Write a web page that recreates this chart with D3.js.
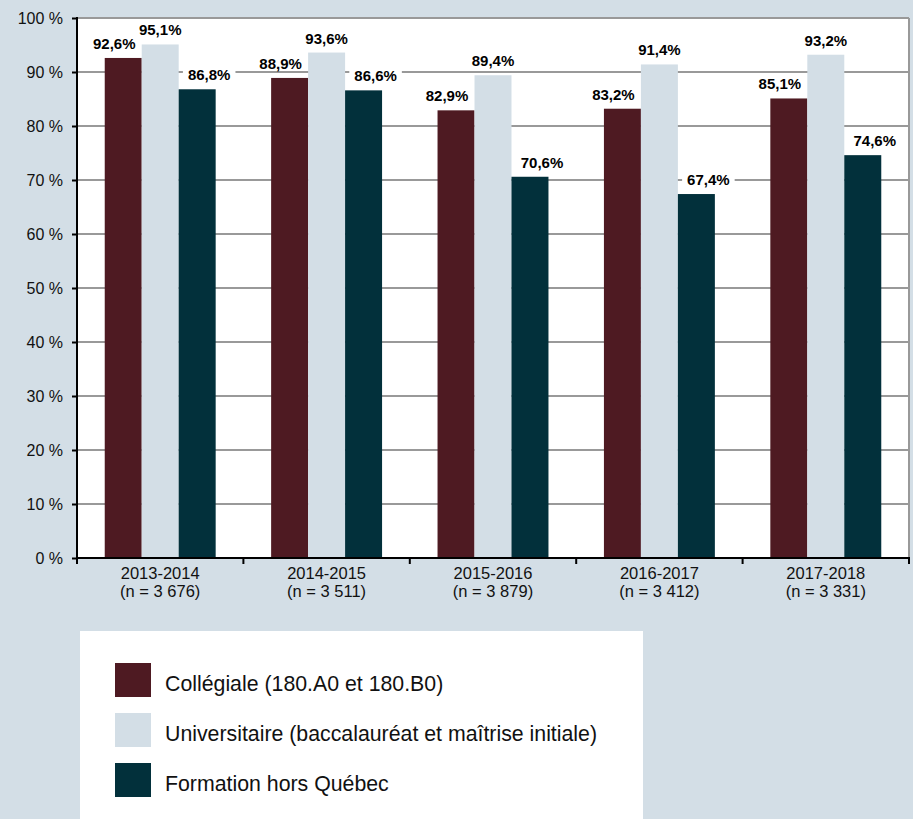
<!DOCTYPE html>
<html>
<head>
<meta charset="utf-8">
<script src="https://cdn.jsdelivr.net/npm/d3@7"></script>
<style>
  body { margin: 0; background: #d3dee6; }
  svg { display: block; font-family: "Liberation Sans", Arial, sans-serif; }
</style>
</head>
<body>
<svg id="chart" width="913" height="819"></svg>
<script>
const years = ["2013-2014", "2014-2015", "2015-2016", "2016-2017", "2017-2018"];
const counts = ["(n = 3 676)", "(n = 3 511)", "(n = 3 879)", "(n = 3 412)", "(n = 3 331)"];
const collegiale = [92.6, 88.9, 82.9, 83.2, 85.1];
const universitaire = [95.1, 93.6, 89.4, 91.4, 93.2];
const horsQuebec = [86.8, 86.6, 70.6, 67.4, 74.6];
const seriesNames = [
  "Collégiale (180.A0 et 180.B0)",
  "Universitaire (baccalauréat et maîtrise initiale)",
  "Formation hors Québec"
];
const yTicks = [0, 10, 20, 30, 40, 50, 60, 70, 80, 90, 100];

const colors = ["#4e1a22", "#d3dee6", "#02303b"];
const labelShift = [-9, 0, 12];
const series = [collegiale, universitaire, horsQuebec];

const svg = d3.select("#chart");
const plotLeft = 77, plotRight = 909, plotTop = 18, plotBottom = 558;

const x0 = d3.scaleBand().domain(years).range([plotLeft, plotRight]).padding(0);
const x1 = d3.scaleBand()
  .domain(d3.range(series.length))
  .range([x0.bandwidth() / 6, x0.bandwidth() * 5 / 6])
  .padding(0);
const y = d3.scaleLinear().domain([0, 100]).range([plotBottom, plotTop]);

// plot area
svg.append("rect")
  .attr("x", plotLeft).attr("y", plotTop)
  .attr("width", plotRight - plotLeft).attr("height", plotBottom - plotTop)
  .attr("fill", "#fff");

// gridlines
svg.append("g")
  .selectAll("line")
  .data(yTicks.filter((d) => d > 0))
  .enter()
  .append("line")
  .attr("x1", plotLeft).attr("x2", plotRight)
  .attr("y1", (d) => y(d)).attr("y2", (d) => y(d))
  .attr("stroke", "#999").attr("stroke-width", 2);

svg.append("line")
  .attr("x1", plotRight).attr("x2", plotRight)
  .attr("y1", plotTop).attr("y2", plotBottom)
  .attr("stroke", "#999").attr("stroke-width", 2);

// bars
const groups = svg.append("g")
  .selectAll("g")
  .data(years)
  .enter()
  .append("g")
  .attr("transform", (d) => `translate(${x0(d)},0)`);

groups.selectAll("rect")
  .data((d, i) => series.map((s, k) => ({ k: k, v: s[i] })))
  .enter()
  .append("rect")
  .attr("x", (d) => x1(d.k))
  .attr("width", x1.bandwidth())
  .attr("y", (d) => y(d.v))
  .attr("height", (d) => y(0) - y(d.v))
  .attr("fill", (d) => colors[d.k]);

// value labels
const fmt = (v) => d3.format(".1f")(v).replace(".", ",") + "%";
const labels = groups.selectAll("g.lbl")
  .data((d, i) => series.map((s, k) => ({ k: k, v: s[i] })))
  .enter()
  .append("g")
  .attr("class", "lbl")
  .attr("transform", (d) =>
    `translate(${x1(d.k) + x1.bandwidth() / 2 + labelShift[d.k]},${y(d.v) - 9})`);

const bg = labels.append("rect")
  .attr("y", -11).attr("height", 12)
  .attr("fill", "#fff");

const txt = labels.append("text")
  .attr("text-anchor", "middle")
  .attr("font-size", 15)
  .attr("font-weight", "bold")
  .attr("fill", "#000")
  .text((d) => fmt(d.v));

txt.each(function () {
  const w = this.getComputedTextLength() + 10;
  d3.select(this.previousSibling).attr("x", -w / 2).attr("width", w);
});

// y axis
const yAxis = svg.append("g")
  .attr("transform", `translate(${plotLeft},0)`)
  .call(d3.axisLeft(y).tickValues(yTicks).tickSize(5).tickPadding(9)
    .tickFormat((d) => d + " %"));
yAxis.selectAll("line").attr("stroke", "#000").attr("stroke-width", 2);
yAxis.select(".domain").attr("stroke", "#000").attr("stroke-width", 2)
  .attr("d", `M0,${plotTop - 1}V${plotBottom}`);
yAxis.selectAll("text")
  .attr("font-size", 16)
  .attr("font-family", "Liberation Sans, Arial, sans-serif")
  .attr("fill", "#111");

// x axis
svg.append("line")
  .attr("x1", plotLeft - 1).attr("x2", plotRight + 1)
  .attr("y1", plotBottom).attr("y2", plotBottom)
  .attr("stroke", "#000").attr("stroke-width", 2);

svg.append("g")
  .selectAll("line")
  .data(years.map((d) => x0(d)).concat([plotRight]))
  .enter()
  .append("line")
  .attr("x1", (d) => d).attr("x2", (d) => d)
  .attr("y1", plotBottom).attr("y2", plotBottom + 6)
  .attr("stroke", "#000").attr("stroke-width", 2);

const xLabels = svg.append("g")
  .selectAll("text")
  .data(years)
  .enter()
  .append("text")
  .attr("x", (d) => x0(d) + x0.bandwidth() / 2)
  .attr("y", 579)
  .attr("text-anchor", "middle")
  .attr("font-size", 16.5)
  .attr("fill", "#111");
xLabels.append("tspan").text((d) => d);
xLabels.append("tspan")
  .attr("x", (d) => x0(d) + x0.bandwidth() / 2)
  .attr("dy", 18)
  .text((d, i) => counts[i]);

// legend
svg.append("rect")
  .attr("x", 80).attr("y", 631)
  .attr("width", 563).attr("height", 188)
  .attr("fill", "#fff");

const legend = svg.append("g")
  .selectAll("g")
  .data(seriesNames)
  .enter()
  .append("g")
  .attr("transform", (d, i) => `translate(115,${663 + i * 50})`);

legend.append("rect")
  .attr("width", 36).attr("height", 34)
  .attr("fill", (d, i) => colors[i]);

legend.append("text")
  .attr("x", 50).attr("y", 28)
  .attr("font-size", 21.3)
  .attr("fill", "#111")
  .text((d) => d);
</script>
</body>
</html>
